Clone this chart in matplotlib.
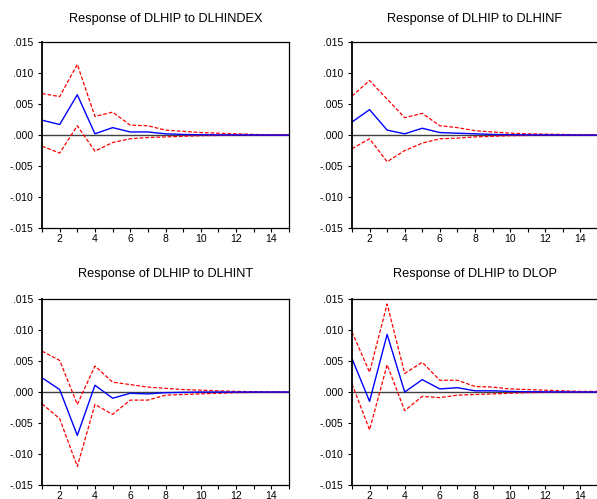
import matplotlib
matplotlib.use("Agg")
import matplotlib.pyplot as plt

plt.rcParams['font.family'] = ['Liberation Sans', 'DejaVu Sans']

periods = list(range(1, 16))

titles = ["Response of DLHIP to DLHINDEX", "Response of DLHIP to DLHINF",
          "Response of DLHIP to DLHINT", "Response of DLHIP to DLOP"]

# impulse responses (blue) and +/- 2 S.E. bands (red dashed)
resp_index = [0.0024, 0.0017, 0.0065, 0.0002, 0.0012, 0.0005, 0.0005, 0.0002, 0.0001, 0.00005, 0.00003, 0.00002, 0.00001, 0.0, 0.0]
upper_index = [0.0067, 0.0062, 0.0114, 0.0030, 0.0037, 0.0016, 0.0015, 0.0008, 0.0006, 0.0004, 0.0003, 0.0002, 0.0001, 0.00005, 0.00002]
lower_index = [-0.0018, -0.0029, 0.0015, -0.0026, -0.0012, -0.0006, -0.0004, -0.0003, -0.0002, -0.0001, -0.00006, -0.00003, -0.00002, -0.00001, 0.0]

resp_inf = [0.0021, 0.0041, 0.0008, 0.0002, 0.0011, 0.0004, 0.0003, 0.0002, 0.0001, 0.00005, 0.00003, 0.00002, 0.00001, 0.0, 0.0]
upper_inf = [0.0063, 0.0088, 0.0058, 0.0028, 0.0035, 0.0015, 0.0012, 0.0007, 0.0005, 0.0003, 0.0002, 0.00015, 0.0001, 0.00005, 0.00002]
lower_inf = [-0.0022, -0.0006, -0.0043, -0.0025, -0.0013, -0.0006, -0.0005, -0.0003, -0.0002, -0.0001, -0.00006, -0.00003, -0.00002, -0.00001, 0.0]

resp_int = [0.0023, 0.0004, -0.0070, 0.0011, -0.0010, -0.0002, -0.0003, -0.0001, -0.00005, 0.0, 0.0, 0.0, 0.0, 0.0, 0.0]
upper_int = [0.0066, 0.0051, -0.0020, 0.0042, 0.0016, 0.0012, 0.0008, 0.0006, 0.0004, 0.0003, 0.0002, 0.0001, 0.00006, 0.00003, 0.00002]
lower_int = [-0.0019, -0.0043, -0.0120, -0.0020, -0.0036, -0.0013, -0.0013, -0.0005, -0.0004, -0.0003, -0.0002, -0.0001, -0.00006, -0.00003, -0.00002]

resp_op = [0.0054, -0.0015, 0.0093, 0.0000, 0.0020, 0.0005, 0.0007, 0.0002, 0.0002, 0.0001, 0.00005, 0.00003, 0.00002, 0.00001, 0.0]
upper_op = [0.0097, 0.0032, 0.0142, 0.0030, 0.0048, 0.0019, 0.0019, 0.0009, 0.0008, 0.0005, 0.0004, 0.0003, 0.0002, 0.0001, 0.0001]
lower_op = [0.0013, -0.0061, 0.0044, -0.0030, -0.0007, -0.0009, -0.0005, -0.0004, -0.0003, -0.0002, -0.0001, -0.00005, -0.00003, -0.00002, -0.00001]

panels = [(resp_index, upper_index, lower_index),
          (resp_inf, upper_inf, lower_inf),
          (resp_int, upper_int, lower_int),
          (resp_op, upper_op, lower_op)]

# axes rectangles [left, bottom, width, height] in figure fractions
rects = [[0.0704, 0.543, 0.4137, 0.3727],
         [0.5896, 0.543, 0.412, 0.3727],
         [0.0704, 0.028, 0.4137, 0.3727],
         [0.5896, 0.028, 0.412, 0.3727]]
title_y = [19, 19, 274, 274]

fig = plt.figure(figsize=(5.97, 4.99), dpi=100)

yticks = [0.015, 0.010, 0.005, 0.0, -0.005, -0.010, -0.015]
ylabels = [".015", ".010", ".005", ".000", "-.005", "-.010", "-.015"]

for i, (resp, up, lo) in enumerate(panels):
    ax = fig.add_axes(rects[i])
    ax.axhline(0, color='#404040', lw=1.0)
    ax.plot(periods, up, color='red', ls=(0, (3, 1.5)), lw=0.9)
    ax.plot(periods, lo, color='red', ls=(0, (3, 1.5)), lw=0.9)
    ax.plot(periods, resp, color='blue', lw=1.0)
    ax.set_xlim(1, 15)
    ax.set_ylim(-0.015, 0.015)
    ax.set_xticks(range(2, 15, 2))
    ax.set_xticks(periods, minor=True)
    ax.set_yticks(yticks)
    ax.set_yticklabels(ylabels)
    ax.tick_params(direction='out', labelsize=7.5, length=3, width=0.8)
    ax.tick_params(which='minor', direction='out', length=3, width=0.8)
    ax.tick_params(axis='x', pad=1)
    for s in ax.spines.values():
        s.set_linewidth(0.9)
    ax.spines['left'].set_linewidth(1.3)
    cx = rects[i][0] + rects[i][2] / 2
    fig.text(cx, 1 - title_y[i] / 499, titles[i], ha='center', va='center', fontsize=9.2)

fig.savefig("out.png", dpi=100)
